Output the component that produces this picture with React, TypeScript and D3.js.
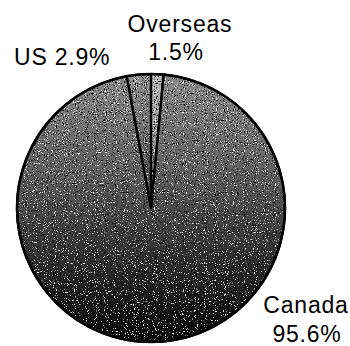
import React from "react";
import * as d3 from "d3";

// Share of visitors by origin (percent)
const categories = ["Overseas", "Canada", "US"];
const shares = [1.5, 95.6, 2.9];
const labelLines = [
  ["Overseas", "1.5%"],
  ["Canada", "95.6%"],
  ["US 2.9%"],
];

const W = 350;
const H = 346;
const cx = 151;
const cy = 208;
const R = 134;

export default function App() {
  const pie = d3
    .pie<number>()
    .sort(null)
    .startAngle(0)
    .endAngle(2 * Math.PI)
    .value((d) => d);
  const arcs = pie(shares);
  const arc = d3.arc<d3.PieArcDatum<number>>().innerRadius(0).outerRadius(R);

  const fills = ["url(#gLight)", "url(#gMain)", "url(#gMid)"];

  const font = {
    fontFamily: "Liberation Sans, Arial, sans-serif",
    fontSize: 23,
    letterSpacing: 0.8,
    fill: "#000",
  } as const;

  return (
    <svg
      width={W}
      height={H}
      viewBox={`0 0 ${W} ${H}`}
      style={{ position: "absolute", left: 0, top: 0, background: "#fff" }}
    >
      <defs>
        {/* gradients are in the pie's local coordinates (origin at its centre) */}
        <linearGradient id="gMain" gradientUnits="userSpaceOnUse" x1={0} y1={-R} x2={0} y2={R}>
          <stop offset="0" stopColor="#8a8a8a" />
          <stop offset="0.35" stopColor="#626262" />
          <stop offset="0.7" stopColor="#2e2e2e" />
          <stop offset="1" stopColor="#040404" />
        </linearGradient>
        <linearGradient id="gMid" gradientUnits="userSpaceOnUse" x1={0} y1={-R} x2={0} y2={0}>
          <stop offset="0" stopColor="#909090" />
          <stop offset="1" stopColor="#404040" />
        </linearGradient>
        <linearGradient id="gLight" gradientUnits="userSpaceOnUse" x1={0} y1={-R} x2={0} y2={0}>
          <stop offset="0" stopColor="#b8b8b8" />
          <stop offset="1" stopColor="#686868" />
        </linearGradient>
        <filter id="grain" x="0" y="0" width="100%" height="100%" colorInterpolationFilters="sRGB">
          <feTurbulence type="fractalNoise" baseFrequency="0.9" numOctaves="2" seed="4" result="noise" />
          <feColorMatrix
            in="noise"
            type="matrix"
            values="0 0 0 0 1  0 0 0 0 1  0 0 0 0 1  9 0 0 0 -5.6"
            result="speck"
          />
          <feComposite in="speck" in2="SourceGraphic" operator="in" result="speckIn" />
          <feColorMatrix
            in="noise"
            type="matrix"
            values="0 0 0 0 0  0 0 0 0 0  0 0 0 0 0  -8 0 0 0 3.3"
            result="dark"
          />
          <feComposite in="dark" in2="SourceGraphic" operator="in" result="darkIn" />
          <feMerge>
            <feMergeNode in="SourceGraphic" />
            <feMergeNode in="darkIn" />
            <feMergeNode in="speckIn" />
          </feMerge>
        </filter>
      </defs>

      <g transform={`translate(${cx},${cy})`}>
        <g filter="url(#grain)">
          {arcs.map((a, i) => (
            <path key={categories[i]} d={arc(a) ?? ""} fill={fills[i]} />
          ))}
        </g>
        {arcs.map((a, i) => (
          <path
            key={`s-${categories[i]}`}
            d={arc(a) ?? ""}
            fill="none"
            stroke="#000"
            strokeWidth={2.2}
            strokeLinejoin="round"
          />
        ))}
        <circle r={R} fill="none" stroke="#000" strokeWidth={2.5} />
      </g>

      <text {...font} x={180} y={32} textAnchor="middle">{labelLines[0][0]}</text>
      <text {...font} x={176} y={60} textAnchor="middle">{labelLines[0][1]}</text>
      <text {...font} x={14} y={65}>{labelLines[2][0]}</text>
      <text {...font} x={306} y={313} textAnchor="middle">{labelLines[1][0]}</text>
      <text {...font} x={307} y={342} textAnchor="middle">{labelLines[1][1]}</text>
    </svg>
  );
}
